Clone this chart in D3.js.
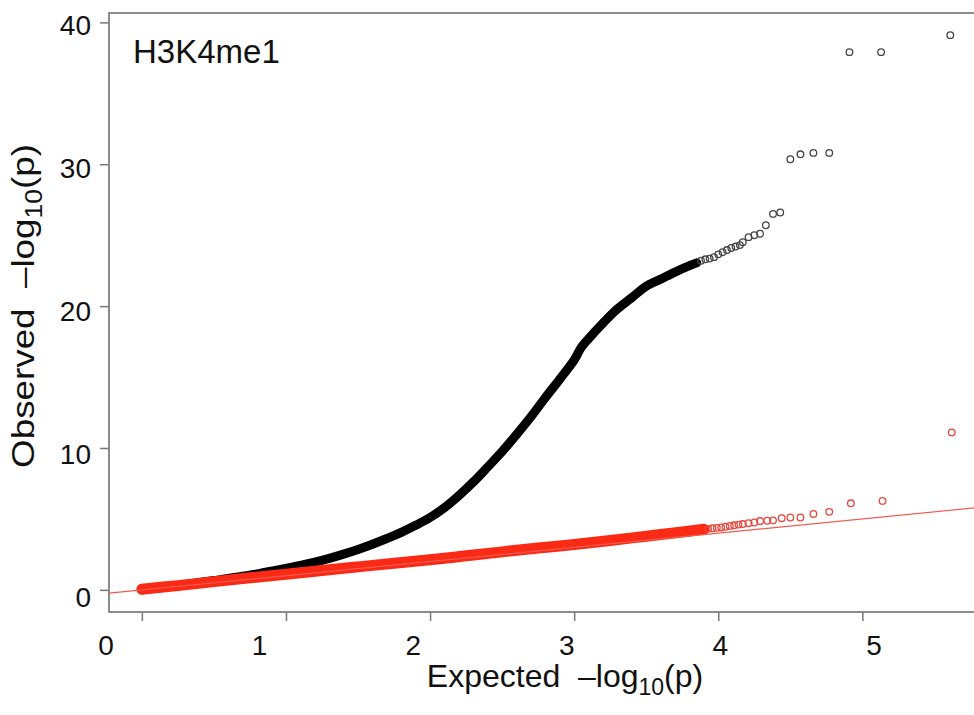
<!DOCTYPE html>
<html>
<head>
<meta charset="utf-8">
<script src="https://d3js.org/d3.v7.min.js"></script>
<style>
  body { margin: 0; background: #fff; }
  text { font-family: 'Liberation Sans', Arial, sans-serif; fill: #111; }
</style>
</head>
<body>
<svg id="qq" width="974" height="715"></svg>
<script>
// data: [expected, observed] in -log10(p)
// dense run of the observed points (thousands of overplotted circles)
const obsDense = [
  [0.00, 0.00], [0.10, 0.12], [0.20, 0.25], [0.30, 0.38], [0.40, 0.52],
  [0.50, 0.66], [0.60, 0.80], [0.70, 0.96], [0.80, 1.13], [0.90, 1.32],
  [1.00, 1.52], [1.10, 1.72], [1.20, 1.95], [1.30, 2.22], [1.40, 2.52],
  [1.50, 2.85], [1.60, 3.22], [1.70, 3.62], [1.80, 4.05], [1.90, 4.55],
  [2.00, 5.10], [2.10, 5.80], [2.20, 6.65], [2.30, 7.60], [2.40, 8.66],
  [2.50, 9.75], [2.60, 10.95], [2.70, 12.20], [2.80, 13.55], [2.90, 14.85],
  [3.00, 16.20], [3.05, 17.10], [3.10, 17.70], [3.20, 18.80], [3.30, 19.80],
  [3.40, 20.60], [3.50, 21.40], [3.60, 21.90], [3.70, 22.40], [3.80, 22.85],
  [3.85, 23.05]
]
// observed points that can be seen one by one
const obsTail = [
  [3.88, 23.20], [3.91, 23.30], [3.94, 23.35], [3.97, 23.45], [4.00, 23.65],
  [4.03, 23.80], [4.06, 23.95], [4.09, 24.10], [4.12, 24.20], [4.15, 24.30],
  [4.17, 24.50], [4.21, 24.86], [4.25, 25.00], [4.29, 25.10], [4.33, 25.70],
  [4.38, 26.50], [4.43, 26.60], [4.50, 30.35], [4.57, 30.70], [4.66, 30.80],
  [4.77, 30.80], [4.91, 37.90], [5.13, 37.90], [5.61, 39.10]
]
// permuted / null points (red)
const nullDense = [
  [0.00, 0.05], [0.25, 0.30], [0.50, 0.58], [0.75, 0.85], [1.00, 1.10],
  [1.25, 1.36], [1.50, 1.62], [1.75, 1.88], [2.00, 2.12], [2.25, 2.40],
  [2.50, 2.68], [2.75, 2.95], [3.00, 3.20], [3.25, 3.48], [3.50, 3.78],
  [3.75, 4.08], [3.90, 4.27]
]
const nullTail = [
  [3.93, 4.30], [3.96, 4.34], [3.99, 4.37], [4.02, 4.40], [4.05, 4.45],
  [4.08, 4.50], [4.11, 4.55], [4.14, 4.60], [4.17, 4.64], [4.21, 4.70],
  [4.25, 4.75], [4.29, 4.85], [4.34, 4.87], [4.38, 4.90], [4.44, 5.05],
  [4.50, 5.10], [4.57, 5.10], [4.66, 5.35], [4.77, 5.50], [4.92, 6.10],
  [5.14, 6.27], [5.62, 11.10]
]
const xTicks = [0, 1, 2, 3, 4, 5]
const yTicks = [0, 10, 20, 30, 40]
const title = 'H3K4me1'

// layout
const mLeft = 109, mRight = 982, mTop = 13, mBottom = 612
const svg = d3.select('#qq')

let x = d3.scaleLinear().domain([-0.228, 5.83]).range([mLeft, mRight])
let y = d3.scaleLinear().domain([-1.56, 40.66]).range([mBottom, mTop])
// the tick labels of the picture sit on a slightly different grid than the tick marks
let xLab = d3.scaleLinear().domain([0, 5]).range([106, 874])
let yLab = d3.scaleLinear().domain([0, 40]).range([597, 25])

svg.append('clipPath').attr('id', 'plotclip')
  .append('rect').attr('x', mLeft).attr('y', mTop).attr('width', mRight - mLeft).attr('height', mBottom - mTop)

// ticks
svg.append('g').attr('transform', 'translate(0,' + mBottom + ')')
  .call(d3.axisBottom(x).tickValues(xTicks).tickSize(9).tickFormat(''))
svg.append('g').attr('transform', 'translate(' + mLeft + ',0)')
  .call(d3.axisLeft(y).tickValues(yTicks).tickSize(9).tickFormat(''))
svg.selectAll('.domain').remove()
svg.selectAll('.tick line').attr('stroke', '#777').attr('stroke-width', 1.5)

svg.append('g').selectAll('text').data(xTicks).enter().append('text')
  .attr('x', d => xLab(d)).attr('y', 655).attr('text-anchor', 'middle')
  .attr('font-size', 28).text(d => d)
svg.append('g').selectAll('text').data(yTicks).enter().append('text')
  .attr('x', 91).attr('y', d => yLab(d)).attr('dy', '0.36em').attr('text-anchor', 'end')
  .attr('font-size', 28).text(d => d)

// box
svg.append('rect').attr('x', mLeft).attr('y', mTop).attr('width', mRight - mLeft).attr('height', mBottom - mTop)
  .attr('fill', 'none').attr('stroke', '#808080').attr('stroke-width', 1.8)

let plot = svg.append('g').attr('clip-path', 'url(#plotclip)')
let line = d3.line().x(d => x(d[0])).y(d => y(d[1])).curve(d3.curveCatmullRom)

// observed
plot.append('path').datum(obsDense).attr('d', line)
  .attr('fill', 'none').attr('stroke', '#000').attr('stroke-width', 9).attr('stroke-linecap', 'round')
plot.append('g').selectAll('circle').data(obsDense).enter().append('circle')
  .attr('cx', d => x(d[0])).attr('cy', d => y(d[1])).attr('r', 3.3)
  .attr('fill', 'none').attr('stroke', '#000').attr('stroke-width', 1.3)
plot.append('g').selectAll('circle').data(obsTail).enter().append('circle')
  .attr('cx', d => x(d[0])).attr('cy', d => y(d[1])).attr('r', 3.3)
  .attr('fill', 'none').attr('stroke', '#444').attr('stroke-width', 1.3)

// null
plot.append('path').datum(nullDense).attr('d', line)
  .attr('fill', 'none').attr('stroke', '#fa2a14').attr('stroke-width', 11).attr('stroke-linecap', 'round')
plot.append('g').selectAll('circle').data(nullDense).enter().append('circle')
  .attr('cx', d => x(d[0])).attr('cy', d => y(d[1])).attr('r', 3.3)
  .attr('fill', 'none').attr('stroke', '#fa2a14').attr('stroke-width', 1.3)
plot.append('g').selectAll('circle').data(nullTail).enter().append('circle')
  .attr('cx', d => x(d[0])).attr('cy', d => y(d[1])).attr('r', 3.3)
  .attr('fill', 'none').attr('stroke', '#e8463c').attr('stroke-width', 1.3)

// y = x reference line
plot.append('line')
  .attr('x1', x(-0.228)).attr('y1', y(-0.228)).attr('x2', x(5.83)).attr('y2', y(5.83))
  .attr('stroke', '#f05a50').attr('stroke-width', 1.2)

// texts
svg.append('text').attr('x', 133).attr('y', 63).attr('font-size', 33).text(title)

let xt = svg.append('text').attr('x', 565).attr('y', 687).attr('text-anchor', 'middle').attr('font-size', 32)
xt.append('tspan').text('Expected\u00a0\u00a0\u2013log')
xt.append('tspan').attr('font-size', 23).attr('dy', 8).text('10')
xt.append('tspan').attr('dy', -8).text('(p)')

// the y title of the picture is drawn a bit stretched along its reading direction
let yt = svg.append('text').attr('transform', 'translate(34,306) rotate(-90) scale(1.15,1)')
  .attr('text-anchor', 'middle').attr('font-size', 32)
yt.append('tspan').text('Observed\u00a0\u00a0\u2013log')
yt.append('tspan').attr('font-size', 23).attr('dy', 8).text('10')
yt.append('tspan').attr('dy', -8).text('(p)')
</script>
</body>
</html>
